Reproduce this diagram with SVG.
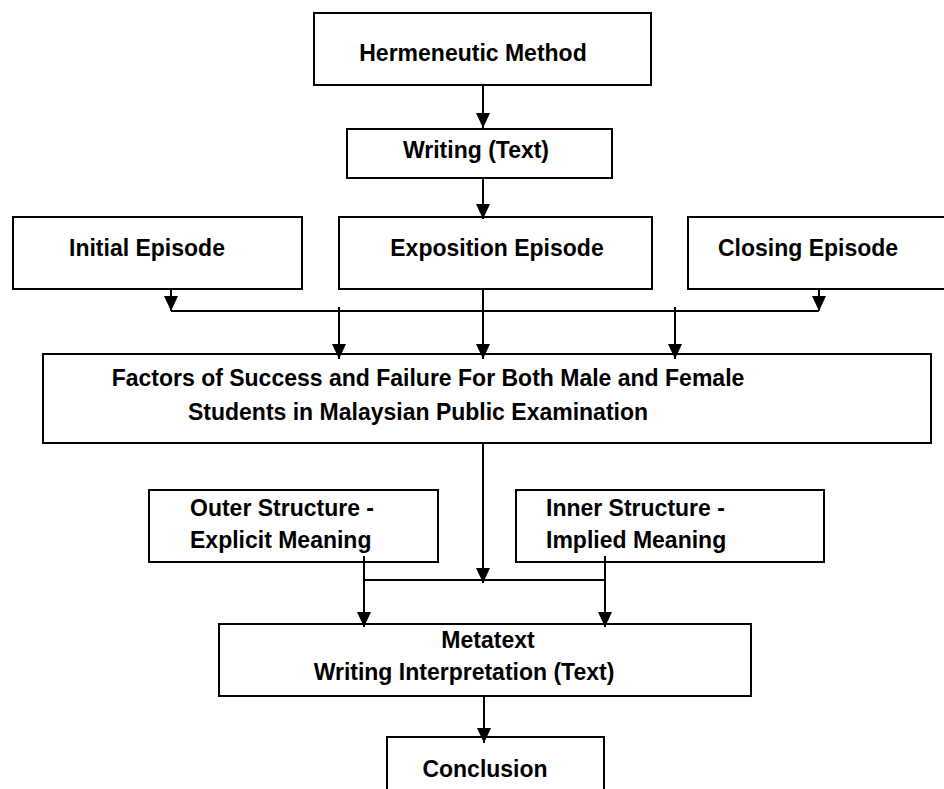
<svg xmlns="http://www.w3.org/2000/svg" width="944" height="789" viewBox="0 0 944 789">
<style>
.box{fill:#fff;stroke:#000;stroke-width:2}
.t{font-family:"Liberation Sans",Arial,sans-serif;font-weight:bold;font-size:23px;fill:#000}
.c{text-anchor:middle}
.ln{fill:none;stroke:#000;stroke-width:2}
</style>
<defs>
<marker id="ah" markerUnits="userSpaceOnUse" markerWidth="16" markerHeight="16" viewBox="0 -8 16 16" refX="15" refY="0" orient="auto">
<path d="M0,-7 L15,0 L0,7 z" fill="#000"/>
</marker>
</defs>
<rect width="944" height="789" fill="#fff"/>
<g id="hermeneutic"><rect class="box" x="314" y="13" width="337" height="72"/><text class="t c" x="473" y="61">Hermeneutic Method</text></g>
<g id="writing"><rect class="box" x="347" y="129" width="265" height="49"/><text class="t c" x="476" y="158">Writing (Text)</text></g>
<g id="initial"><rect class="box" x="13" y="217" width="289" height="72"/><text class="t c" x="147" y="256">Initial Episode</text></g>
<g id="exposition"><rect class="box" x="339" y="217" width="313" height="72"/><text class="t c" x="497" y="256">Exposition Episode</text></g>
<g id="closing"><rect class="box" x="688" y="217" width="262" height="72"/><text class="t c" x="808" y="256">Closing Episode</text></g>
<g id="factors"><rect class="box" x="43" y="354" width="888" height="89"/><text class="t c" x="428" y="386">Factors of Success and Failure For Both Male and Female</text><text class="t c" x="418" y="420">Students in Malaysian Public Examination</text></g>
<g id="outer"><rect class="box" x="149" y="490" width="289" height="72"/><text class="t" x="190" y="516">Outer Structure -</text><text class="t" x="190" y="548">Explicit Meaning</text></g>
<g id="inner"><rect class="box" x="516" y="490" width="308" height="72"/><text class="t" x="546" y="516">Inner Structure -</text><text class="t" x="546" y="548">Implied Meaning</text></g>
<g id="metatext"><rect class="box" x="219" y="624" width="532" height="72"/><text class="t c" x="488" y="648">Metatext</text><text class="t c" x="464" y="680">Writing Interpretation (Text)</text></g>
<g id="conclusion"><rect class="box" x="387" y="737" width="217" height="70"/><text class="t c" x="485" y="777">Conclusion</text></g>
<g id="connectors">
<line class="ln" x1="483" y1="85" x2="483" y2="128" marker-end="url(#ah)"/>
<line class="ln" x1="483" y1="178" x2="483" y2="219" marker-end="url(#ah)"/>
<line class="ln" x1="171" y1="289" x2="171" y2="311" marker-end="url(#ah)"/>
<line class="ln" x1="819" y1="289" x2="819" y2="311" marker-end="url(#ah)"/>
<line class="ln" x1="171" y1="311" x2="819" y2="311"/>
<line class="ln" x1="339" y1="307" x2="339" y2="359" marker-end="url(#ah)"/>
<line class="ln" x1="483" y1="289" x2="483" y2="359" marker-end="url(#ah)"/>
<line class="ln" x1="675" y1="307" x2="675" y2="359" marker-end="url(#ah)"/>
<line class="ln" x1="483" y1="443" x2="483" y2="583" marker-end="url(#ah)"/>
<line class="ln" x1="364" y1="580" x2="605" y2="580"/>
<line class="ln" x1="364" y1="556" x2="364" y2="627" marker-end="url(#ah)"/>
<line class="ln" x1="605" y1="556" x2="605" y2="627" marker-end="url(#ah)"/>
<line class="ln" x1="484" y1="696" x2="484" y2="743" marker-end="url(#ah)"/>
</g>
</svg>
